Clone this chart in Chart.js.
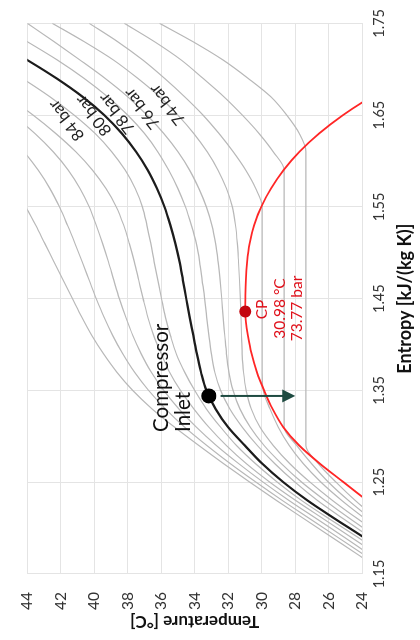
<!DOCTYPE html>
<html>
<head>
<meta charset="utf-8">
<script src="https://cdn.jsdelivr.net/npm/chart.js@4.4.1/dist/chart.umd.min.js"></script>
<style>
  html, body { margin: 0; padding: 0; background: #fff; overflow: hidden; }
  /* the T-s diagram is laid out landscape and turned a quarter turn */
  #wrap { position: absolute; left: 0; top: 0; width: 640px; height: 420px;
          transform-origin: 0 0; transform: translate(0, 640px) rotate(-90deg); }
</style>
</head>
<body>
<div id="wrap"><canvas id="c" width="640" height="420"></canvas></div>
<script>
// entropy grid shared by all isobars, kJ/(kg K)
const entropyGrid = [1.15, 1.17, 1.19, 1.21, 1.23, 1.25, 1.27, 1.29, 1.31, 1.33, 1.35,
                     1.37, 1.39, 1.41, 1.43, 1.45, 1.47, 1.49, 1.51, 1.53, 1.55,
                     1.57, 1.59, 1.61, 1.63, 1.65, 1.67, 1.69, 1.71, 1.73, 1.75];

// temperature along each isobar, °C
const t68 = [18.9, 20.35, 21.8, 23.1, 24.4, 25.55, 26.6, 27.35, 27.35, 27.35, 27.35,
             27.35, 27.35, 27.35, 27.35, 27.35, 27.35, 27.35, 27.35, 27.35, 27.35,
             27.35, 27.35, 27.35, 27.75, 28.5, 29.45, 30.8, 32.3, 34.1, 36.1];
const t70 = [19.1, 20.6, 22.05, 23.45, 24.8, 26.0, 27.0, 27.9, 28.65, 28.65, 28.65,
             28.65, 28.65, 28.65, 28.65, 28.65, 28.65, 28.65, 28.65, 28.65, 28.65,
             28.65, 28.65, 29.3, 30.15, 31.15, 32.25, 33.5, 34.8, 36.4, 38.2];
const t72 = [19.3, 20.85, 22.35, 23.8, 25.2, 26.45, 27.5, 28.35, 29.0, 29.5, 29.9,
             29.96, 29.96, 29.96, 29.96, 29.96, 29.96, 29.96, 29.96, 29.96, 29.96,
             30.35, 30.95, 31.7, 32.55, 33.5, 34.6, 35.8, 37.1, 38.6, 40.3];
const t74 = [19.5, 21.1, 22.65, 24.25, 25.75, 27.1, 28.3, 29.3, 30.1, 30.62, 30.92,
             31.08, 31.16, 31.2, 31.23, 31.27, 31.32, 31.38, 31.45, 31.56, 31.75,
             32.1, 32.6, 33.25, 34.05, 35.0, 36.1, 37.4, 38.85, 40.6, 42.5];
const t76 = [19.9, 21.5, 23.1, 24.7, 26.2, 27.6, 28.8, 29.85, 30.68, 31.3, 31.7,
             31.95, 32.1, 32.2, 32.3, 32.38, 32.48, 32.6, 32.75, 32.97, 33.3,
             33.75, 34.3, 35.0, 35.85, 36.85, 38.0, 39.35, 40.85, 42.4, 44.0];
const t78 = [20.3, 21.9, 23.5, 25.1, 26.65, 28.0, 29.2, 30.25, 31.15, 31.9, 32.45,
             32.8, 33.0, 33.15, 33.28, 33.4, 33.55, 33.7, 33.9, 34.2, 34.55,
             35.0, 35.55, 36.2, 37.0, 38.0, 39.2, 40.6, 42.2, 44.0, 45.9];
const t80 = [20.7, 22.3, 23.9, 25.6, 27.25, 28.7, 29.95, 31.0, 32.0, 32.75, 33.3,
             33.62, 33.87, 34.08, 34.3, 34.5, 34.7, 34.9, 35.15, 35.45, 35.8,
             36.25, 36.8, 37.5, 38.35, 39.4, 40.7, 42.25, 44.0, 45.9, 47.9];
const t82 = [21.0, 22.6, 24.25, 25.95, 27.6, 29.05, 30.35, 31.5, 32.45, 33.3, 34.0,
             34.6, 35.1, 35.45, 35.75, 35.98, 36.2, 36.42, 36.62, 36.85, 37.12,
             37.55, 38.15, 38.95, 39.95, 41.2, 42.65, 44.3, 46.1, 48.0, 50.0];
const t84 = [21.4, 23.0, 24.65, 26.3, 27.95, 29.5, 30.9, 32.1, 33.15, 34.05, 34.85,
             35.5, 36.0, 36.45, 36.8, 37.08, 37.34, 37.6, 37.9, 38.24, 38.68,
             39.3, 40.1, 41.1, 42.3, 43.65, 45.2, 46.9, 48.7, 50.6, 52.6];
const t86 = [21.8, 23.45, 25.05, 26.7, 28.35, 29.9, 31.35, 32.7, 33.9, 34.95, 35.85,
             36.6, 37.2, 37.7, 38.12, 38.5, 38.83, 39.15, 39.5, 39.88, 40.3,
             40.85, 41.55, 42.45, 43.55, 44.85, 46.35, 48.0, 49.8, 51.7, 53.7];
const t88 = [22.15, 23.8, 25.45, 27.1, 28.75, 30.33, 31.85, 33.27, 34.6, 35.75, 36.75,
             37.6, 38.3, 38.9, 39.42, 39.88, 40.3, 40.72, 41.15, 41.6, 42.08,
             42.65, 43.35, 44.2, 45.25, 46.5, 47.95, 49.6, 51.4, 53.3, 55.3];
const t90 = [22.55, 24.15, 25.8, 27.45, 29.1, 30.7, 32.25, 33.75, 35.2, 36.55, 37.7,
             38.65, 39.45, 40.15, 40.75, 41.3, 41.85, 42.4, 42.95, 43.5, 44.1,
             44.8, 45.6, 46.5, 47.5, 48.65, 49.95, 51.4, 53.0, 54.8, 56.7];

// saturation dome
const domeEntropy = [1.21, 1.2343, 1.25, 1.27, 1.29, 1.31, 1.33, 1.35, 1.37, 1.39, 1.41,
                     1.425, 1.436, 1.45, 1.47, 1.49, 1.51, 1.53, 1.55, 1.57, 1.59,
                     1.61, 1.63, 1.65, 1.67, 1.69];
const domeTemp = [22.2, 24.0, 25.1, 26.5, 27.75, 28.7, 29.35, 29.85, 30.28, 30.6, 30.82,
                  30.94, 30.98, 30.97, 30.94, 30.86, 30.71, 30.44, 30.02, 29.44, 28.69,
                  27.74, 26.56, 25.13, 23.43, 21.4];

// critical point and compressor inlet state
const critical = { s: 1.436, t: 30.98 };
const inlet = { s: 1.344, t: 33.15 };
const arrowTemps = [32.45, 27.99];

// isobar labels
const barLabels = ['74 bar', '76 bar', '78 bar', '80 bar', '84 bar'];
const barLabelEntropy = [1.6614, 1.6572, 1.6518, 1.6497, 1.6443];
const barLabelTemp = [35.64, 37.15, 38.65, 40.04, 41.66];

const entropyTicks = [1.15, 1.25, 1.35, 1.45, 1.55, 1.65, 1.75];

const FONT = "Lato, 'Open Sans', sans-serif";

const pts = (xs, ys) => xs.map((v, i) => ({ x: v, y: ys[i] }));
const grayIsobars = [t68, t70, t72, t74, t76, t78, t82, t84, t86, t88, t90];

const datasets = [
  { data: [{ x: inlet.s, y: inlet.t }], showLine: false, pointRadius: 7.5,
    pointBackgroundColor: '#000', pointBorderWidth: 0, order: 0 },
  { data: [{ x: critical.s, y: critical.t }], showLine: false, pointRadius: 6,
    pointBackgroundColor: '#c3060f', pointBorderWidth: 0, order: 0 },
  { data: pts(entropyGrid, t80), borderColor: '#1c1c1c', borderWidth: 2.2, order: 1 },
  { data: pts(domeEntropy, domeTemp), borderColor: '#ff2626', borderWidth: 1.8, order: 2 },
  ...grayIsobars.map(t => ({ data: pts(entropyGrid, t), borderColor: '#b8b8b8', borderWidth: 1.2, order: 3 }))
];

const notes = {
  id: 'notes',
  afterDatasetsDraw(chart) {
    const { ctx, scales: { x, y } } = chart;
    ctx.save();
    // cooling arrow from the compressor inlet
    const ax = x.getPixelForValue(inlet.s);
    const y0 = y.getPixelForValue(arrowTemps[0]);
    const y1 = y.getPixelForValue(arrowTemps[1]);
    ctx.strokeStyle = '#1d4a40';
    ctx.fillStyle = '#1d4a40';
    ctx.lineWidth = 2;
    ctx.beginPath(); ctx.moveTo(ax, y0); ctx.lineTo(ax, y1 - 11); ctx.stroke();
    ctx.beginPath(); ctx.moveTo(ax, y1); ctx.lineTo(ax - 6.5, y1 - 13); ctx.lineTo(ax + 6.5, y1 - 13);
    ctx.closePath(); ctx.fill();

    // isobar names
    ctx.fillStyle = '#222';
    ctx.font = '16.5px ' + FONT;
    ctx.textAlign = 'center';
    ctx.textBaseline = 'middle';
    barLabels.forEach((txt, i) => {
      ctx.save();
      ctx.translate(x.getPixelForValue(barLabelEntropy[i]), y.getPixelForValue(barLabelTemp[i]));
      ctx.rotate(-38 * Math.PI / 180);
      ctx.fillText(txt, 0, 0);
      ctx.restore();
    });

    // critical point notes
    const cx = x.getPixelForValue(critical.s), cy = y.getPixelForValue(critical.t);
    ctx.fillStyle = '#e0101a';
    ctx.font = '15.5px ' + FONT;
    ctx.fillText('CP', cx + 2, cy + 17);
    ctx.fillText(critical.t.toFixed(2) + ' °C', cx + 3, cy + 34.5);
    ctx.fillText('73.77 bar', cx + 3, cy + 52);

    // compressor inlet notes
    const ix = x.getPixelForValue(inlet.s), iy = y.getPixelForValue(inlet.t);
    ctx.fillStyle = '#111';
    ctx.font = '20.5px ' + FONT;
    ctx.textAlign = 'left';
    ctx.fillText('Compressor', ix - 36, iy - 47);
    ctx.fillText('Inlet', ix - 36, iy - 25);
    ctx.restore();
  }
};

new Chart(document.getElementById('c'), {
  type: 'scatter',
  data: { datasets },
  options: {
    responsive: false,
    animation: false,
    devicePixelRatio: 1,
    layout: { padding: { top: 17, right: 12, left: 0, bottom: 0 } },
    elements: {
      line: { cubicInterpolationMode: 'monotone', fill: false },
      point: { radius: 0, hoverRadius: 0 }
    },
    datasets: { scatter: { showLine: true } },
    plugins: { legend: { display: false }, tooltip: { enabled: false } },
    scales: {
      x: {
        type: 'linear', min: 1.15, max: 1.75,
        afterBuildTicks: s => { s.ticks = entropyTicks.map(v => ({ value: v })); },
        afterFit: s => { s.height = 58; },
        ticks: { callback: v => v.toFixed(2), color: '#333', padding: 9, maxRotation: 0,
                 font: { family: FONT, size: 14.5 } },
        grid: { color: '#e4e4e4', lineWidth: 1, drawTicks: false },
        border: { color: '#e4e4e4' },
        title: { display: true, text: 'Entropy [kJ/(kg K)]', color: '#111',
                 font: { family: FONT, size: 18, weight: 'bold' }, padding: { top: 0, bottom: 4 } }
      },
      y: {
        type: 'linear', min: 24, max: 44,
        afterFit: s => { s.width = 66; },
        ticks: { stepSize: 2, color: '#333', padding: 18, font: { family: FONT, size: 15.5 } },
        grid: { color: '#e4e4e4', lineWidth: 1, drawTicks: false },
        border: { color: '#e4e4e4' },
        title: { display: true, text: 'Temperature [°C]', color: '#111',
                 font: { family: FONT, size: 17, weight: 'bold' }, padding: { top: 8, bottom: 0 } }
      }
    }
  },
  plugins: [notes]
});
</script>
</body>
</html>
